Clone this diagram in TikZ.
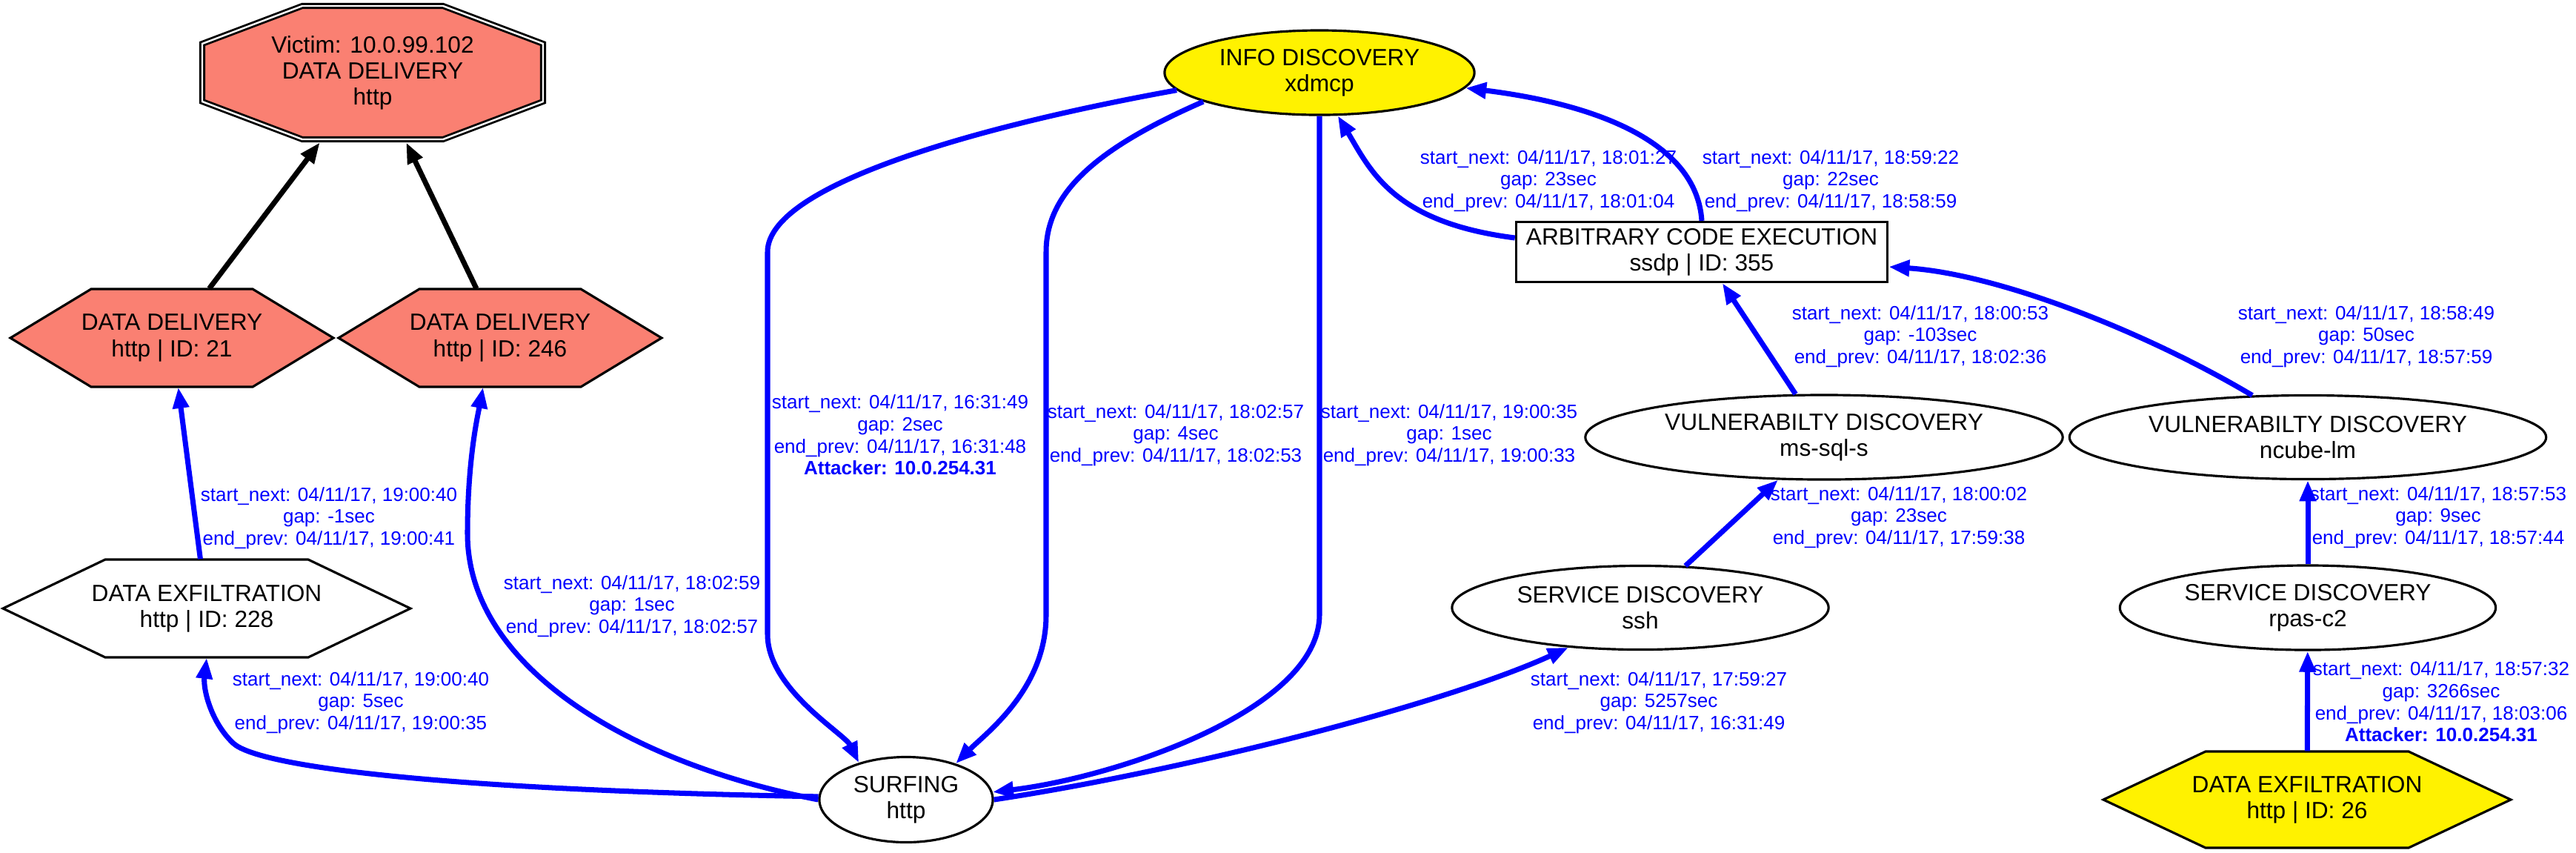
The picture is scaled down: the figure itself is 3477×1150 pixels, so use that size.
\documentclass[tikz,border=0pt]{standalone}
\usepackage{fontspec}
\setmainfont{Liberation Sans}
\usepackage{xcolor}
\usetikzlibrary{positioning, shapes.geometric, arrows.meta, calc, backgrounds}

\definecolor{salmon}{RGB}{250,128,114}
\definecolor{gvblue}{RGB}{0,0,255}

\begin{document}
\begin{tikzpicture}[
                x=0.01cm, y=-0.01cm,
                font=\fontsize{9}{10}\selectfont,
                attack_flow/.style={-{Triangle[length=8pt, width=6pt]}, line width=2pt, gvblue},
                delivery_flow/.style={-{Triangle[length=8pt, width=6pt]}, line width=2pt, black},
                state_node/.style={ellipse, draw, line width=0.9pt, inner sep=0pt, align=center},
                exec_node/.style={rectangle, draw, line width=0.9pt, inner sep=0pt, align=center},
                hex_node/.style={rectangle, inner sep=0pt, align=center},
                hex_shape/.style={draw, line width=0.9pt},
                gap_label/.style={font=\fontsize{7.4}{8.4}\selectfont, text=gvblue, align=center, inner sep=0pt}
            ]
                \useasboundingbox (0,0) rectangle (3477,1150);

                % Victim and delivery
                \node[hex_node, minimum width=4.68cm, minimum height=1.87cm] (victim) at (503,98) {Victim: 10.0.99.102\\DATA DELIVERY\\http};
                \node[hex_node, minimum width=4.36cm, minimum height=1.32cm] (deliv21) at (232,456) {DATA DELIVERY\\http | ID: 21};
                \node[hex_node, minimum width=4.38cm, minimum height=1.32cm] (deliv246) at (675,456) {DATA DELIVERY\\http | ID: 246};
                \node[hex_node, minimum width=5.50cm, minimum height=1.32cm] (exfil228) at (279,821) {DATA EXFILTRATION\\http | ID: 228};
                \node[hex_node, minimum width=5.50cm, minimum height=1.30cm] (exfil26) at (3114,1079) {DATA EXFILTRATION\\http | ID: 26};

                % Discovery and execution
                \node[state_node, fill=yellow, minimum width=4.18cm, minimum height=1.14cm] (info) at (1781,98) {INFO DISCOVERY\\xdmcp};
                \node[state_node, minimum width=2.34cm, minimum height=1.15cm] (surfing) at (1223,1079) {SURFING\\http};
                \node[exec_node, minimum width=5.01cm, minimum height=0.81cm] (ace) at (2297,340) {ARBITRARY CODE EXECUTION\\ssdp | ID: 355};
                \node[state_node, minimum width=6.44cm, minimum height=1.14cm] (mssql) at (2462,590) {VULNERABILTY DISCOVERY\\ms-sql-s};
                \node[state_node, minimum width=6.43cm, minimum height=1.13cm] (ncube) at (3115,590) {VULNERABILTY DISCOVERY\\ncube-lm};
                \node[state_node, minimum width=5.08cm, minimum height=1.13cm] (ssh) at (2214,820) {SERVICE DISCOVERY\\ssh};
                \node[state_node, minimum width=5.07cm, minimum height=1.14cm] (rpas) at (3115,820) {SERVICE DISCOVERY\\rpas-c2};

                % Octagon and hexagon outlines
                \begin{scope}[on background layer]
                    \draw[hex_shape, fill=salmon, line width=0.8pt, double=white, double distance=0.7pt, shift={(victim)}]
                        (-95,-90) -- (95,-90) -- (230,-39) -- (230,39) -- (95,90) -- (-95,90) -- (-230,39) -- (-230,-39) -- cycle;
                    \draw[hex_shape, fill=salmon, shift={(deliv21)}]
                        (-218,0) -- (-109,-66) -- (109,-66) -- (218,0) -- (109,66) -- (-109,66) -- cycle;
                    \draw[hex_shape, fill=salmon, shift={(deliv246)}]
                        (-218,0) -- (-109,-66) -- (109,-66) -- (218,0) -- (109,66) -- (-109,66) -- cycle;
                    \draw[hex_shape, fill=white, shift={(exfil228)}]
                        (-275,0) -- (-137,-66) -- (137,-66) -- (275,0) -- (137,66) -- (-137,66) -- cycle;
                    \draw[hex_shape, fill=yellow, shift={(exfil26)}]
                        (-275,0) -- (-137,-65) -- (137,-65) -- (275,0) -- (137,65) -- (-137,65) -- cycle;
                \end{scope}

                % Delivery to victim
                \draw[delivery_flow] (deliv21) -- (victim);
                \draw[delivery_flow] (deliv246) -- (victim);

                % Left branch
                \draw[attack_flow] (exfil228) -- (deliv21);
                \draw[attack_flow] (surfing.178) .. controls (600,1066) and (350,1035) .. (315,1003)
                    .. controls (285,975) and (274,930) .. (exfil228.south);
                \draw[attack_flow] (surfing.180) .. controls (850,1030) and (631,900) .. (631,720)
                    .. controls (631,620) and (645,560) .. ($(deliv246.south)+(-23,0)$);

                % Info discovery to surfing
                \draw[attack_flow] (info.187) .. controls (1320,170) and (1036,250) .. (1036,340) -- (1036,856)
                    .. controls (1036,930) and (1140,990) .. (surfing.142);
                \draw[attack_flow] (info.194) .. controls (1480,200) and (1412,260) .. (1412,340) -- (1412,830)
                    .. controls (1412,930) and (1330,990) .. (surfing.36);
                \draw[attack_flow] (info.south) -- (1781,829) .. controls (1781,960) and (1500,1050) .. (surfing.5);

                % Middle branch
                \draw[attack_flow] (surfing.0) .. controls (1600,1040) and (1950,950) .. (ssh.209);
                \draw[attack_flow] (ssh) -- (mssql);
                \draw[attack_flow] (mssql) -- (ace);
                \draw[attack_flow] ($(ace.west)+(0,-19)$) .. controls (1880,300) and (1850,230) .. (info.293);
                \draw[attack_flow] (ace.north) .. controls (2290,190) and (2150,140) .. (info.354);

                % Right branch
                \draw[attack_flow] (exfil26) -- (rpas);
                \draw[attack_flow] (rpas) -- (ncube);
                \draw[attack_flow] (ncube.143) .. controls (2900,450) and (2700,370) .. ($(ace.east)+(0,20)$);

                % Gap labels
                \node[gap_label] (gap_exfil228) at (444,699) {start\_next: 04/11/17, 19:00:40\\gap: -1sec\\end\_prev: 04/11/17, 19:00:41};
                \node[gap_label] (gap_surf_exfil) at (487,948) {start\_next: 04/11/17, 19:00:40\\gap: 5sec\\end\_prev: 04/11/17, 19:00:35};
                \node[gap_label] (gap_surf_deliv) at (853,818) {start\_next: 04/11/17, 18:02:59\\gap: 1sec\\end\_prev: 04/11/17, 18:02:57};
                \node[gap_label] (gap_info_a) at (1215,587) {start\_next: 04/11/17, 16:31:49\\gap: 2sec\\end\_prev: 04/11/17, 16:31:48\\\textbf{Attacker: 10.0.254.31}};
                \node[gap_label] (gap_info_b) at (1587,587) {start\_next: 04/11/17, 18:02:57\\gap: 4sec\\end\_prev: 04/11/17, 18:02:53};
                \node[gap_label] (gap_info_c) at (1956,587) {start\_next: 04/11/17, 19:00:35\\gap: 1sec\\end\_prev: 04/11/17, 19:00:33};
                \node[gap_label] (gap_ace_a) at (2090,244) {start\_next: 04/11/17, 18:01:27\\gap: 23sec\\end\_prev: 04/11/17, 18:01:04};
                \node[gap_label] (gap_ace_b) at (2471,244) {start\_next: 04/11/17, 18:59:22\\gap: 22sec\\end\_prev: 04/11/17, 18:58:59};
                \node[gap_label] (gap_mssql) at (2592,454) {start\_next: 04/11/17, 18:00:53\\gap: -103sec\\end\_prev: 04/11/17, 18:02:36};
                \node[gap_label] (gap_ncube) at (3194,454) {start\_next: 04/11/17, 18:58:49\\gap: 50sec\\end\_prev: 04/11/17, 18:57:59};
                \node[gap_label] (gap_ssh) at (2563,698) {start\_next: 04/11/17, 18:00:02\\gap: 23sec\\end\_prev: 04/11/17, 17:59:38};
                \node[gap_label] (gap_rpas) at (3291,698) {start\_next: 04/11/17, 18:57:53\\gap: 9sec\\end\_prev: 04/11/17, 18:57:44};
                \node[gap_label] (gap_surf_ssh) at (2239,948) {start\_next: 04/11/17, 17:59:27\\gap: 5257sec\\end\_prev: 04/11/17, 16:31:49};
                \node[gap_label] (gap_exfil26) at (3295,947) {start\_next: 04/11/17, 18:57:32\\gap: 3266sec\\end\_prev: 04/11/17, 18:03:06\\\textbf{Attacker: 10.0.254.31}};

            \end{tikzpicture}
\end{document}
